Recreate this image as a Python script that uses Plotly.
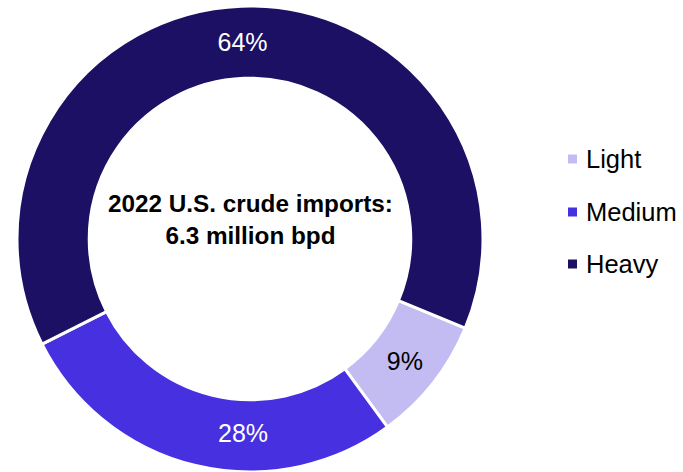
import plotly.graph_objects as go

labels = ["Light", "Medium", "Heavy"]
values = [8.7, 27.6, 63.7]
colors = ["#C2BCF2", "#4630E0", "#1B1063"]
text_colors = ["#000000", "#FFFFFF", "#FFFFFF"]
center_title = "2022 U.S. crude imports:"
center_sub = "6.3 million bpd"

W, H = 683, 472
mt, mb = 6, 0
FONT = "Liberation Sans, Arial, sans-serif"

fig = go.Figure(go.Pie(
    labels=labels, values=values, hole=0.69, sort=False,
    direction="clockwise", rotation=112.5,
    marker=dict(colors=colors, line=dict(color="white", width=3)),
    texttemplate=["%{percent:.0%}", "", "%{percent:.0%}"], textposition="inside",
    insidetextorientation="horizontal",
    textfont=dict(size=25, color=text_colors, family=FONT),
    showlegend=False, hoverinfo="label+percent",
    domain=dict(x=[0, 0.732], y=[0, 1]),
))

def py(ypx):
    return (H - mb - ypx) / (H - mt - mb)

total = sum(values)
annotations = [
    dict(
        text=f"<b>{center_title}<br>{center_sub}</b>",
        x=250 / W, y=py(220), xref="paper", yref="paper",
        showarrow=False, font=dict(size=24.3, color="#000000", family=FONT),
        xanchor="center", yanchor="middle", align="center",
    ),
    # Medium slice label (placed near the bottom of the ring, as in the original)
    dict(
        text=f"{round(values[1] / total * 100)}%",
        x=243 / W, y=py(433), xref="paper", yref="paper",
        showarrow=False, font=dict(size=25, color=text_colors[1], family=FONT),
        xanchor="center", yanchor="middle",
    ),
]
shapes = []
legend_y = [159, 212, 264]
for lab, col, yc in zip(labels, colors, legend_y):
    annotations.append(dict(
        text=lab, x=584 / W, y=py(yc), xref="paper", yref="paper",
        showarrow=False, xanchor="left", yanchor="middle",
        font=dict(size=25.5, color="#000000", family=FONT),
    ))
    shapes.append(dict(
        type="rect", xref="paper", yref="paper",
        x0=568 / W, x1=577 / W, y0=py(yc + 4.5), y1=py(yc - 4.5),
        fillcolor=col, line=dict(width=0),
    ))

fig.update_layout(
    width=W, height=H,
    margin=dict(l=0, r=0, t=mt, b=mb),
    paper_bgcolor="white", plot_bgcolor="white",
    annotations=annotations, shapes=shapes,
)
fig.write_html("out.html")
